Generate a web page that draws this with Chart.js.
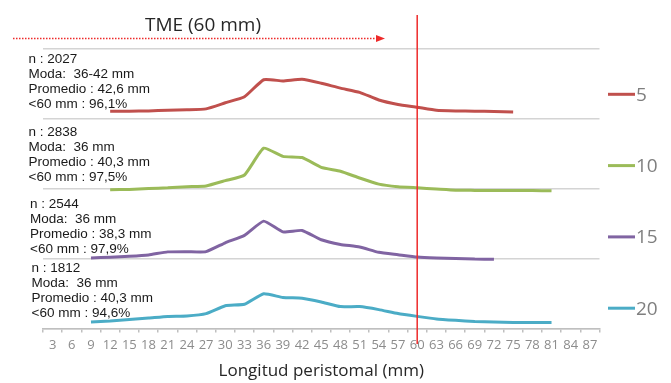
<!DOCTYPE html>
<html>
<head>
<meta charset="utf-8">
<script src="https://cdn.jsdelivr.net/npm/chart.js@4/dist/chart.umd.min.js"></script>
<style>
  body { margin: 0; background: #fff; }
</style>
</head>
<body>
<canvas id="ridgeChart" width="671" height="383"></canvas>
<script>
const categories = ['3', '6', '9', '12', '15', '18', '21', '24', '27', '30', '33', '36', '39', '42', '45',
  '48', '51', '54', '57', '60', '63', '66', '69', '72', '75', '78', '81', '84', '87'];

const seriesLabels = ['5', '10', '15', '20'];
const seriesColors = ['#c0504d', '#9bbb59', '#8064a2', '#4bacc6'];

// values, one band per series
const serie5 = [null, null, null, 3.3, 3.3, 3.4, 3.7, 3.9, 4.3, 6.9, 9.5, 16.8, 16.3, 17.0, 15.3,
  13.2, 11.4, 8.1, 6.2, 5.0, 3.7, 3.4, 3.3, 3.2, 3.0, null, null, null, null];
const serie10 = [null, null, null, -0.4, -0.3, 0.1, 0.4, 0.9, 1.2, 3.5, 5.9, 17.4, 13.9, 13.4, 9.2,
  7.5, 4.6, 2.0, 0.9, 0.4, -0.1, -0.6, -0.7, -0.8, -0.8, -0.8, -0.9, null, null];
const serie15 = [null, null, 0.3, 0.6, 1.0, 1.6, 2.9, 3.0, 3.0, 6.8, 10.0, 16.1, 11.5, 12.1, 8.1,
  6.1, 5.0, 2.7, 1.7, 0.7, 0.3, 0.1, -0.2, -0.3, null, null, null, null, null];
const serie20 = [null, null, 2.8, 3.2, 3.9, 4.5, 5.2, 5.4, 6.4, 9.8, 10.4, 14.9, 13.3, 13.0, 11.4,
  9.4, 9.4, 8.1, 6.4, 5.2, 4.1, 3.5, 3.0, 2.8, 2.6, 2.6, 2.6, null, null];

const notes = [
  ['n : 2027', 'Moda:  36-42 mm', 'Promedio : 42,6 mm', '<60 mm : 96,1%'],
  ['n : 2838', 'Moda:  36 mm', 'Promedio : 40,3 mm', '<60 mm : 97,5%'],
  ['n : 2544', 'Moda:  36 mm', 'Promedio : 38,3 mm', '<60 mm : 97,9%'],
  ['n : 1812', 'Moda:  36 mm', 'Promedio : 40,3 mm', '<60 mm : 94,6%']
];

const titleText = 'TME (60 mm)';
const limitCategory = '60';

const bandSize = 30;
const allSeries = [serie5, serie10, serie15, serie20];

// each series sits in its own band, top band first
const datasets = allSeries.map((serie, i) => {
  const offset = (allSeries.length - 1 - i) * bandSize;
  return {
    label: seriesLabels[i],
    data: serie.map(v => v === null ? null : v + offset),
    borderColor: seriesColors[i],
    backgroundColor: seriesColors[i],
    borderWidth: 3,
    pointRadius: 0,
    tension: 0.15,
    fill: false
  };
});

const extras = {
  id: 'extras',
  afterDatasetsDraw(chart) {
    const ctx = chart.ctx;
    const x = chart.scales.x;
    const y = chart.scales.y;

    // notes on the left of each band
    const noteX = [28.5, 28.5, 30, 31.5];
    const noteDy = [14, 17.5, 19.5, 13.5];
    ctx.save();
    ctx.font = '13.5px "Liberation Sans", Arial, sans-serif';
    ctx.fillStyle = '#1a1a1a';
    ctx.textBaseline = 'alphabetic';
    ctx.textAlign = 'left';
    notes.forEach((lines, i) => {
      const top = y.getPixelForValue((allSeries.length - i) * bandSize);
      lines.forEach((t, j) => ctx.fillText(t, noteX[i], top + noteDy[i] + j * 15));
    });
    ctx.restore();

    // red limit line at 60 mm
    const lx = x.getPixelForValue(categories.indexOf(limitCategory));
    ctx.save();
    ctx.strokeStyle = '#ee2a2a';
    ctx.lineWidth = 1.5;
    ctx.beginPath();
    ctx.moveTo(lx, 15);
    ctx.lineTo(lx, 344);
    ctx.stroke();

    // dotted arrow and title
    ctx.setLineDash([1.5, 1.5]);
    ctx.beginPath();
    ctx.moveTo(13, 38.5);
    ctx.lineTo(378, 38.5);
    ctx.stroke();
    ctx.setLineDash([]);
    ctx.fillStyle = '#ee2a2a';
    ctx.beginPath();
    ctx.moveTo(376, 35);
    ctx.lineTo(385, 38.5);
    ctx.lineTo(376, 42);
    ctx.closePath();
    ctx.fill();

    ctx.fillStyle = '#262626';
    ctx.font = '19px "Open Sans", sans-serif';
    ctx.textAlign = 'center';
    ctx.textBaseline = 'alphabetic';
    ctx.fillText(titleText, 203, 30.5);

    // legend on the right
    ctx.font = '19px "Open Sans", sans-serif';
    ctx.textAlign = 'left';
    ctx.textBaseline = 'middle';
    datasets.forEach((ds, i) => {
      const ly = 94.3 + i * 71.3;
      ctx.strokeStyle = ds.borderColor;
      ctx.lineWidth = 3;
      ctx.beginPath();
      ctx.moveTo(608, ly);
      ctx.lineTo(635, ly);
      ctx.stroke();
      ctx.fillStyle = '#7f7f7f';
      ctx.fillText(ds.label, 636, ly + 1);
    });
    ctx.restore();
  }
};

new Chart(document.getElementById('ridgeChart'), {
  type: 'line',
  data: { labels: categories, datasets: datasets },
  options: {
    responsive: false,
    animation: false,
    devicePixelRatio: 1,
    layout: { padding: { left: 43, right: 71.5, top: 49, bottom: 2 } },
    plugins: { legend: { display: false }, tooltip: { enabled: false } },
    scales: {
      x: {
        offset: true,
        grid: { offset: true, drawOnChartArea: false, drawTicks: true, tickLength: 4, color: '#bfbfbf', lineWidth: 1.5 },
        border: { color: '#bfbfbf', width: 1.5 },
        ticks: {
          autoSkip: false, maxRotation: 0, padding: 5, color: '#8c8c8c',
          font: { family: '"Open Sans", sans-serif', size: 13 }
        },
        title: {
          display: true, text: 'Longitud peristomal (mm)', color: '#262626',
          font: { family: '"Open Sans", sans-serif', size: 17 }, padding: { top: 2.5, bottom: 0 }
        }
      },
      y: {
        min: 0,
        max: bandSize * allSeries.length,
        ticks: { display: false, stepSize: bandSize },
        grid: { color: '#d4d4d4', lineWidth: 1.5, drawTicks: false },
        border: { display: false }
      }
    }
  },
  plugins: [extras]
});
</script>
</body>
</html>
